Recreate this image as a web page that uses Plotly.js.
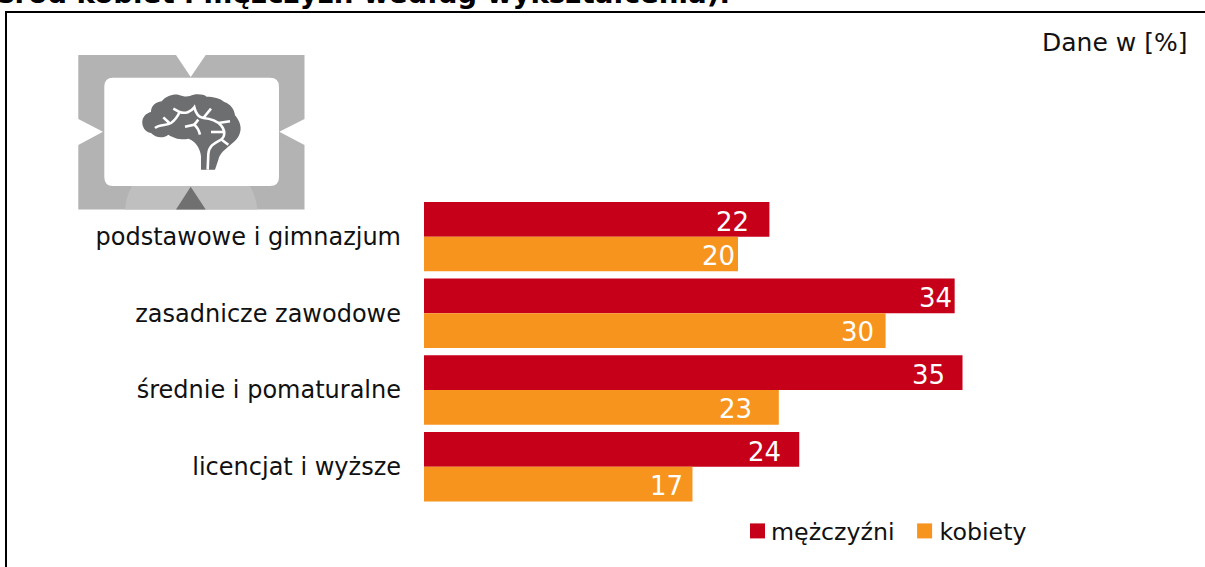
<!DOCTYPE html>
<html><head><meta charset="utf-8">
<script src="https://cdn.plot.ly/plotly-3.0.1.min.js"></script>
<style>html,body{margin:0;padding:0;background:#fff;overflow:hidden}#c{width:1205px;height:567px}</style>
</head><body><div id="c"></div>
<script>
const categories = ['podstawowe i gimnazjum','zasadnicze zawodowe','średnie i pomaturalne','licencjat i wyższe'];
const men = [22, 33.8, 34.3, 23.9];
const women = [20, 29.4, 22.6, 17.1];
const menLabels = ['22','34','35','24'];
const womenLabels = ['20','30','23','17'];
const seriesNames = ['mężczyźni','kobiety'];
const titleText = 'śród kobiet i mężczyzn według wykształcenia):';
const unitText = 'Dane w [%]';

const W = 1205, H = 567;
const FONT = '"DejaVu Sans", Verdana, sans-serif';
const RED = '#c50018', ORANGE = '#f7941e';
const px = x => x / W, py = y => 1 - y / H;
function P(cmds){
  return cmds.replace(/(-?[\d.]+),(-?[\d.]+)/g,(m,a,b)=>px(+a).toFixed(5)+','+py(+b).toFixed(5));
}
const bx = x => (135 + x/3).toFixed(2), by = y => (88 + y/3).toFixed(2);
function B(cmds){ return P(cmds.replace(/(-?[\d.]+),(-?[\d.]+)/g,(m,a,b)=>bx(+a)+','+by(+b))); }
function pshape(path, fill, line){
  return {type:'path', xref:'paper', yref:'paper', path, fillcolor:fill||'rgba(0,0,0,0)',
          line: line||{width:0}, layer:'below'};
}
const veinLine = {color:'#ffffff', width:2.6};
const shapes = [
  pshape(P('M78.3,55 L176,55 L190.7,77 L205.7,55 L304.5,55 L304.5,119 L279.3,131.7 L304.5,145 L304.5,209.5 L78.3,209.5 L78.3,145 L103,131.7 L78.3,119 Z'),'#b3b3b3'),
  pshape(P('M125,209.5 C126,200 128,193 132,186 L250,186 C254,193 256,200 257.5,209.5 Z'),'#bfbfbf'),
  pshape(P('M176,209.5 L190.7,186.7 L205.7,209.5 Z'),'#707070'),
  pshape(P('M113,77.7 L270,77.7 Q279,77.7 279,86.7 L279,177 Q279,186 270,186 L113,186 Q104.3,186 104.3,177 L104.3,86.7 Q104.3,77.7 113,77.7 Z'),'#ffffff'),
  pshape(B('M198,245 L198,205 C196,180 180,158 160,152 C140,158 115,150 100,140 C85,152 62,150 48,135 C30,132 20,115 22,98 C25,82 38,74 48,72 C48,55 60,42 80,40 C92,25 112,18 130,20 C145,26 155,26 165,24 C180,16 205,18 215,26 C235,26 255,30 268,42 C285,48 298,62 300,82 C312,95 320,115 316,130 C312,150 300,160 285,172 C270,185 255,195 250,215 L240,245 Z'),'#6d6e70'),
  pshape(B('M60,120 C75,108 95,114 108,105 C122,95 128,85 134,72 L115,62'),null,veinLine),
  pshape(B('M134,72 C150,78 168,72 178,58 C182,75 192,88 205,90 C225,92 245,98 258,112 C270,125 272,145 258,155 C240,165 222,172 220,198 L218,245'),null,veinLine),
  pshape(B('M85,88 L103,105'),null,veinLine),
  pshape(B('M205,90 L228,62'),null,veinLine),
  pshape(B('M250,105 L285,100'),null,veinLine),
  pshape(B('M150,116 L178,110 C188,118 192,128 195,140'),null,veinLine),
  pshape(B('M178,110 L190,95'),null,veinLine),
  pshape(B('M228,132 L268,132'),null,veinLine),
  pshape(B('M260,155 L280,170'),null,veinLine),
  {type:'line',xref:'paper',yref:'paper',x0:px(6),x1:px(6),y0:py(11),y1:py(567),line:{color:'#000',width:2},layer:'above'},
  {type:'line',xref:'paper',yref:'paper',x0:px(5),x1:px(1205),y0:py(12),y1:py(12),line:{color:'#000',width:2},layer:'above'}
];

const menPad = [18,1,16,16], womenPad = [1,10,25,7];
const annotations = [];
categories.forEach((c,i)=>{
  annotations.push({x:men[i],y:c,xref:'x',yref:'y',text:menLabels[i],showarrow:false,xanchor:'right',yanchor:'middle',
    xshift:-menPad[i],yshift:15,font:{family:FONT,size:26,color:'#fff'}});
  annotations.push({x:women[i],y:c,xref:'x',yref:'y',text:womenLabels[i],showarrow:false,xanchor:'right',yanchor:'middle',
    xshift:-womenPad[i],yshift:-19,font:{family:FONT,size:26,color:'#fff'}});
});
annotations.push({xref:'paper',yref:'paper',x:px(1189),y:py(42),text:unitText,showarrow:false,xanchor:'right',yanchor:'middle',
  font:{family:FONT,size:25,color:'#111'}});
annotations.push({xref:'paper',yref:'paper',x:px(-4),y:py(-6),text:'<b>'+titleText+'</b>',showarrow:false,xanchor:'left',yanchor:'middle',
  font:{family:FONT,size:27.7,color:'#000'}});

const data = [
  {type:'bar',orientation:'h',name:seriesNames[0],y:categories,x:men,marker:{color:RED},hoverinfo:'x+y'},
  {type:'bar',orientation:'h',name:seriesNames[1],y:categories,x:women,marker:{color:ORANGE},hoverinfo:'x+y'}
];
const layout = {
  width:W,height:H,margin:{l:0,r:0,t:0,b:0,pad:0},paper_bgcolor:'#fff',plot_bgcolor:'rgba(0,0,0,0)',
  barmode:'group',bargap:0.094,bargroupgap:0,
  xaxis:{domain:[px(424),px(1052)],range:[0,40],visible:false,fixedrange:true},
  yaxis:{domain:[py(505),py(198.3)],type:'category',categoryorder:'array',categoryarray:categories,autorange:'reversed',
    showgrid:false,zeroline:false,showline:false,ticks:'',ticklabelstandoff:22,
    tickfont:{family:FONT,size:24,color:'#111'},fixedrange:true},
  showlegend:true,
  legend:{orientation:'h',x:px(731),y:py(531),xanchor:'left',yanchor:'middle',font:{family:FONT,size:23.7,color:'#111'},
    bgcolor:'rgba(0,0,0,0)',itemclick:false,itemdoubleclick:false},
  shapes,annotations
};
Plotly.newPlot('c',data,layout,{displayModeBar:false,responsive:false}).then(()=>{
  const swatchShift = [26.5,25];
  document.querySelectorAll('.legendpoints path').forEach((p,i)=>{
    p.setAttribute('transform','translate('+swatchShift[i]+',0) scale(1.25)');
  });
});
</script></body></html>
